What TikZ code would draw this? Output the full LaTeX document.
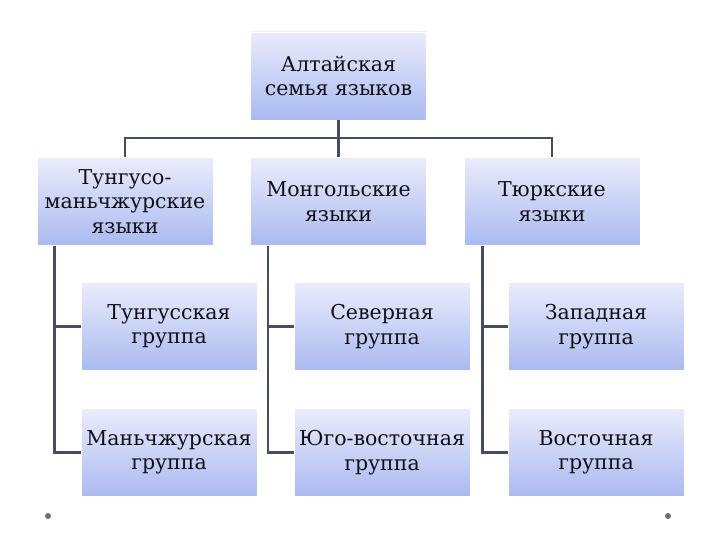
\documentclass[tikz,border=0pt]{standalone}
\usepackage{fontspec}
\setmainfont{DejaVu Serif}
\definecolor{bgout}{RGB}{208,208,208}
\definecolor{boxtop}{RGB}{234,236,252}
\definecolor{boxbot}{RGB}{170,186,240}
\definecolor{connc}{RGB}{70,76,100}
\definecolor{txtc}{RGB}{16,16,20}
\definecolor{dotc}{RGB}{110,110,110}
\pgfdeclareradialshading{bgshade}{\pgfpointorigin}{color(0bp)=(white); color(26bp)=(white); color(50bp)=(bgout)}
\tikzset{
  box/.style={minimum width=176pt, minimum height=88pt, inner sep=0pt, align=center,
    top color=boxtop, bottom color=boxbot, draw=white, line width=0.8pt,
    text=txtc, font=\fontsize{20.5}{24.5}\selectfont},
  conn/.style={draw=connc, line width=2.4pt},
  deco/.style={circle, fill=dotc, inner sep=0pt, minimum size=6pt}
}
\begin{document}
\begin{tikzpicture}[x=1pt,y=-1pt]
\useasboundingbox (0,0) rectangle (720,540);
\begin{scope}
\clip (0,0) rectangle (720,540);
\shade[shading=bgshade] (360,270) circle (460pt);
\end{scope}
% level 1
\node[box] (top) at (338.5,76) {Алтайская\\семья языков};
% level 2
\node[box] (ta) at (125,201.5) {Тунгусо-\\маньчжурские\\языки};
\node[box] (mo) at (338.5,201.5) {Монгольские\\языки};
\node[box] (tu) at (552,201.5) {Тюркские\\языки};
% level 3
\node[box] (g1a) at (169,326.5) {Тунгусская\\группа};
\node[box] (g2a) at (169,452.5) {Маньчжурская\\группа};
\node[box] (g1b) at (382,326.5) {Северная\\группа};
\node[box] (g2b) at (382,452.5) {Юго-восточная\\группа};
\node[box] (g1c) at (596,326.5) {Западная\\группа};
\node[box] (g2c) at (596,452.5) {Восточная\\группа};
% connectors
\coordinate (j) at (338.5,138);
\draw[conn] (top.south) -- (j);
\draw[conn] (ta.north) |- (j) -| (tu.north);
\draw[conn] (j) -- (mo.north);
\coordinate (ca) at ([xshift=18pt]ta.south west);
\coordinate (cb) at ([xshift=18pt]mo.south west);
\coordinate (cc) at ([xshift=19pt]tu.south west);
\draw[conn] (ca) |- (g1a.west);
\draw[conn] (ca) |- (g2a.west);
\draw[conn] (cb) |- (g1b.west);
\draw[conn] (cb) |- (g2b.west);
\draw[conn] (cc) |- (g1c.west);
\draw[conn] (cc) |- (g2c.west);
% slide decorations
\node[deco] (d1) at (48,516) {};
\node[deco] (d2) at (668,516) {};
\end{tikzpicture}
\end{document}
